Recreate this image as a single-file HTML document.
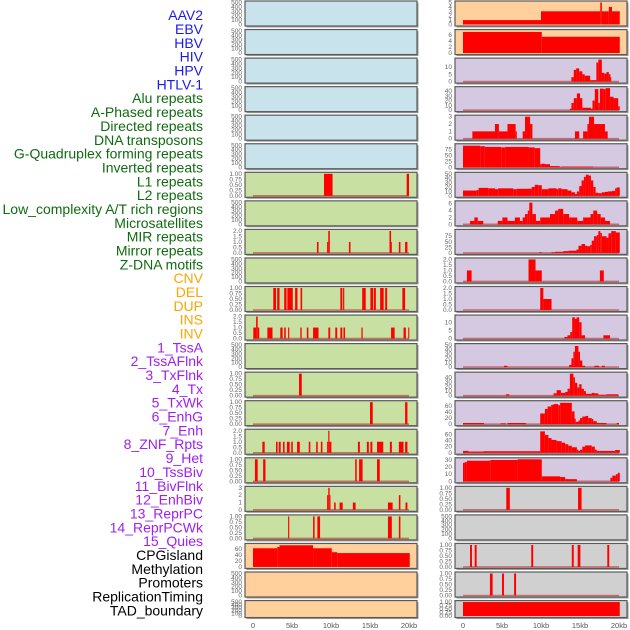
<!DOCTYPE html>
<html><head><meta charset="utf-8"><style>
html,body{margin:0;padding:0;background:#fff;width:630px;height:630px;overflow:hidden}
svg{display:block;font-family:"Liberation Sans",sans-serif}
</style></head><body>
<svg id="chart" width="630" height="630" viewBox="0 0 630 630"></svg>
<script>
// ---- data (segments: [startKb, endKb, value]) ----
const trackLabels=["AAV2","EBV","HBV","HIV","HPV","HTLV-1","Alu repeats","A-Phased repeats","Directed repeats","DNA transposons","G-Quadruplex forming repeats","Inverted repeats","L1 repeats","L2 repeats","Low_complexity A/T rich regions","Microsatellites","MIR repeats","Mirror repeats","Z-DNA motifs","CNV","DEL","DUP","INS","INV","1_TssA","2_TssAFlnk","3_TxFlnk","4_Tx","5_TxWk","6_EnhG","7_Enh","8_ZNF_Rpts","9_Het","10_TssBiv","11_BivFlnk","12_EnhBiv","13_ReprPC","14_ReprPCWk","15_Quies","CPGisland","Methylation","Promoters","ReplicationTiming","TAD_boundary"];
const labelColors=["#1a1aee","#1a1aee","#1a1aee","#1a1aee","#1a1aee","#1a1aee","#106b10","#106b10","#106b10","#106b10","#106b10","#106b10","#106b10","#106b10","#106b10","#106b10","#106b10","#106b10","#106b10","#ffa500","#ffa500","#ffa500","#ffa500","#ffa500","#a020f0","#a020f0","#a020f0","#a020f0","#a020f0","#a020f0","#a020f0","#a020f0","#a020f0","#a020f0","#a020f0","#a020f0","#a020f0","#a020f0","#a020f0","#000","#000","#000","#000","#000"];
const xTickValues=[0,5,10,15,20];
const xTickLabels=["0","5kb","10kb","15kb","20kb"];
const segEmpty=[];
const segAlu=[[9.1,10.2,1],[19.7,20.0,1]];
const segDirected=[[8.2,8.4,1],[9.5,9.65,1],[9.65,9.85,2],[12.3,12.5,1],[17.5,17.7,2],[17.7,17.8,1],[18.7,18.9,1],[19.5,19.8,1]];
const segMicrosat=[[2.6,2.95,1],[3.1,3.4,1],[4.0,4.3,1],[4.4,5.1,1],[5.4,5.7,1],[6.1,6.3,1],[11.2,11.45,1],[11.55,11.7,1],[14.0,14.45,1],[15.05,15.4,1],[15.5,15.75,1],[16.3,16.75,1],[16.95,17.2,1],[19.15,19.5,1]];
const segMirror=[[0.04,0.4,1],[0.4,0.6,2],[0.6,0.8,1],[1.84,2.5,1],[3.5,3.8,1],[4.0,4.2,1],[4.5,4.65,1],[6.07,6.24,1],[6.9,7.1,1],[7.7,8.4,1],[9.66,9.9,1],[10.55,10.8,1],[11.2,11.45,1],[11.6,11.8,1],[13.9,14.06,1],[17.7,18.16,1],[19.3,19.6,1],[19.9,20.04,1]];
const segL14=[[5.9,6.25,1]];
const segL15=[[15.0,15.35,1],[19.5,19.8,1]];
const segL16=[[1.2,1.5,1],[2.95,3.15,1],[3.3,3.55,1],[3.85,4.05,1],[4.35,4.7,1],[4.9,5.1,1],[5.65,6.0,1],[7.15,7.35,1],[8.1,8.3,1],[8.7,8.9,1],[9.5,9.65,1],[9.65,9.8,2],[9.8,10.05,1],[13.45,13.7,1],[14.6,14.85,1],[15.05,15.3,1],[15.9,16.7,1],[17.55,17.8,1],[18.7,19.3,1],[19.5,19.8,1]];
const segL17=[[0.25,0.6,1],[1.3,1.6,1],[13.1,13.3,1],[13.6,14.05,1],[15.9,16.25,1]];
const segL18=[[9.5,9.65,2],[9.65,9.83,3],[9.83,9.9,2],[10.4,10.6,1],[11.1,11.5,1],[12.8,13.15,1],[17.3,17.9,1],[18.7,18.9,2],[19.55,19.8,1]];
const segL19=[[4.5,4.65,1],[7.7,7.9,1],[8.25,8.6,1],[17.3,17.8,1],[18.7,18.9,1]];
const segCNV=[[0,3.1,62],[3.1,3.4,66],[3.4,7.7,72],[7.7,10.1,62],[10.1,10.8,49],[10.8,20.1,46]];
const segINS=[[0,10,1],[10,17.6,3],[17.6,17.8,5],[17.8,18.7,3],[18.7,19.1,4],[19.1,20.1,3]];
const segINV=[[0,10.1,7.0],[10.1,20.1,5.4]];
const segTssA=[[13.9,14.2,3],[14.2,14.5,8],[14.5,14.9,9],[14.9,15.3,7],[15.3,15.6,5],[15.6,16.3,4],[16.3,17.1,1],[17.1,17.35,13],[17.35,17.8,15],[17.8,18.1,6],[18.1,18.4,5.5],[18.4,18.7,6.5],[18.7,18.9,5],[18.9,19.0,3]];
const segTssAFlnk=[[13.7,13.9,3],[13.9,14.2,15],[14.2,14.6,25],[14.6,15.0,35],[15.0,15.3,25],[15.3,16.4,5],[16.4,16.6,3],[16.6,16.9,20],[16.9,17.35,44],[17.35,17.55,15],[17.55,18.0,45],[18.0,18.3,44],[18.3,18.85,46],[18.85,19.3,28],[19.3,19.9,25],[19.9,20.1,8]];
const segTxFlnk=[[1.2,4.1,1],[4.1,4.6,2],[4.6,5.7,1],[5.7,6.75,2],[6.75,6.9,1],[7.65,7.95,1],[7.95,8.6,3],[8.6,8.9,2],[14.35,14.9,1],[15.4,15.95,1],[15.95,16.15,2],[16.15,16.8,3],[16.8,18.2,2],[18.2,18.55,1]];
const segTx=[[0,2.2,90],[2.2,2.8,88],[2.8,4.9,85],[4.9,5.4,83],[5.4,8.4,85],[8.4,9.2,83],[9.2,9.9,80],[9.9,10.1,13],[10.1,10.5,15],[10.5,11.15,13],[11.15,12.4,5],[12.4,12.65,1],[12.65,16.7,3]];
const segTxWk=[[0,1.75,12],[1.75,2.0,13],[2.0,3.25,18],[3.25,4.1,17],[4.1,4.5,15],[4.5,6.45,17],[6.45,6.9,15],[6.9,8.8,16],[8.8,9.2,20],[9.2,9.65,25],[9.65,10.1,24],[10.1,10.95,15],[10.95,12.0,17],[12.0,12.2,15],[12.2,12.65,17],[12.65,13.4,15],[13.4,13.9,12],[13.9,14.35,8],[14.35,14.6,4],[14.6,14.9,10],[14.9,15.2,22],[15.2,15.5,35],[15.5,15.75,43],[15.75,16.1,48],[16.1,16.4,46],[16.4,16.7,35],[16.7,17.0,20],[17.0,17.35,7],[17.35,17.8,6],[17.8,18.2,8],[18.2,18.6,9],[18.6,19.1,10],[19.1,19.5,11],[19.5,19.7,17],[19.7,20.1,19]];
const segEnhG=[[0.9,1.45,1],[1.45,1.9,2],[1.9,2.6,1],[4.45,5.05,1],[5.05,5.7,2],[5.7,6.65,1],[6.65,7.3,2],[7.3,7.65,1],[7.65,7.95,2],[7.95,8.3,3],[8.3,8.5,4],[8.5,8.9,6.3],[8.9,9.35,3],[9.35,9.9,1],[9.9,11.15,2],[11.15,11.8,3],[11.8,12.2,4],[12.2,12.85,4.5],[12.85,13.6,3],[13.6,14.65,2],[14.65,15.4,1],[15.4,16.35,2],[16.35,16.7,3],[16.7,17.2,4],[17.2,17.65,3],[17.65,18.2,2],[18.2,18.85,1]];
const segEnh=[[9.75,10.1,3],[11.35,11.8,3],[11.8,12.85,5],[12.85,13.5,8],[13.5,14.55,10],[14.55,14.8,15],[14.8,15.2,32],[15.2,15.65,40],[15.65,15.95,32],[15.95,16.3,30],[16.3,16.5,36],[16.5,16.8,55],[16.8,17.15,75],[17.15,17.35,80],[17.35,17.6,98],[17.6,17.8,90],[17.8,18.4,75],[18.4,18.65,68],[18.65,19.0,88],[19.0,19.6,98],[19.6,20.1,92]];
const segZNF=[[0.5,1.1,1],[8.4,9.3,2],[9.3,10.1,1],[17.55,18.05,1]];
const segHet=[[9.9,10.3,2],[10.3,11.35,1]];
const segTssBiv=[[13.0,13.4,1],[13.4,13.75,2],[13.75,14.0,4],[14.0,14.35,13],[14.35,14.55,12],[14.55,14.9,13],[14.9,15.2,10],[15.2,15.65,2],[18.0,18.85,2]];
const segBivFlnk=[[5.25,5.7,3],[13.6,13.9,5],[13.9,14.15,20],[14.15,14.35,35],[14.35,14.8,48],[14.8,15.0,35],[15.0,15.3,15],[15.3,15.65,3],[16.85,17.45,3],[17.8,18.2,3]];
const segEnhBiv=[[5.5,5.95,3],[11.6,12.0,5],[12.0,12.55,12],[12.55,13.1,6],[13.1,13.4,8],[13.4,13.7,15],[13.7,14.15,48],[14.15,14.35,40],[14.35,14.65,28],[14.65,14.9,18],[14.9,15.2,25],[15.2,15.5,15],[15.5,15.75,10],[15.75,16.5,4],[16.5,16.9,6],[16.9,17.35,5],[17.35,18.35,2],[18.35,19.9,3]];
const segReprPC=[[0,2.7,4],[4.8,5.5,3],[5.7,8.1,4],[9.9,10.5,35],[10.5,10.85,50],[10.85,11.3,58],[11.3,11.6,63],[11.6,12.2,66],[12.2,12.45,62],[12.45,13.95,70],[13.95,14.3,42],[14.3,14.45,18],[14.45,14.8,8],[14.8,15.0,12],[15.0,15.3,20],[15.3,15.7,25],[15.7,16.05,27],[16.05,16.5,20],[16.5,16.7,17],[16.7,17.15,10],[17.15,18.4,4],[19.7,20.0,4]];
const segReprPCWk=[[0,0.7,6],[0.7,2.6,4],[2.6,9.9,5],[9.9,10.5,70],[10.5,10.95,58],[10.95,11.35,48],[11.35,12.0,42],[12.0,12.65,38],[12.65,13.1,33],[13.1,13.5,28],[13.5,13.95,23],[13.95,14.6,18],[14.6,14.8,10],[14.8,15.0,6],[15.0,15.3,10],[15.3,15.65,20],[15.65,16.5,24],[16.5,16.9,20],[16.9,17.15,10],[17.15,19.5,6],[19.5,20.1,9]];
const segQuies=[[0,0.2,26],[0.2,0.5,27],[0.5,3.5,29],[3.5,7.0,30],[7.0,10.1,31],[10.1,12.45,7],[12.45,13.1,6],[13.1,14.6,3],[18.9,19.15,5],[19.15,19.6,8],[19.6,19.85,10],[19.85,20.1,12]];
const segCPG=[[5.55,6.0,1],[14.75,15.2,1]];
const segPromoters=[[0.9,1.15,1],[1.5,1.75,1],[8.75,9.0,1],[13.95,14.2,1],[14.7,15.05,1],[18.5,18.75,1]];
const segRepl=[[3.45,3.8,1],[5.0,5.25,1],[6.55,6.8,1]];
const segTAD=[[0,20.1,1]];

// ---- layout ----
const T500=[0,100,200,300,400,500], T1=[0,0.25,0.5,0.75,1], T2=[0,0.5,1,1.5,2];
const panels=[
 ["aav2-ebv",0,0,segEmpty,500,T500,"#c8e3eb",false],
 ["hbv-hiv",0,1,segEmpty,500,T500,"#c8e3eb",false],
 ["hpv-htlv",0,2,segEmpty,500,T500,"#c8e3eb",false],
 ["blue-4",0,3,segEmpty,500,T500,"#c8e3eb",false],
 ["blue-5",0,4,segEmpty,500,T500,"#c8e3eb",false],
 ["blue-6",0,5,segEmpty,500,T500,"#c8e3eb",false],
 ["alu",0,6,segAlu,1,T1,"#c8e0a2",true],
 ["aphased",0,7,segEmpty,500,T500,"#c8e0a2",false],
 ["directed",0,8,segDirected,2,T2,"#c8e0a2",true],
 ["dna-transposons",0,9,segEmpty,500,T500,"#c8e0a2",false],
 ["g-quadruplex",0,10,segMicrosat,1,T1,"#c8e0a2",true],
 ["inverted",0,11,segMirror,2,T2,"#c8e0a2",true],
 ["l1",0,12,segEmpty,500,T500,"#c8e0a2",false],
 ["l2",0,13,segL14,1,T1,"#c8e0a2",true],
 ["low-complexity",0,14,segL15,1,T1,"#c8e0a2",true],
 ["microsat",0,15,segL16,2,T2,"#c8e0a2",true],
 ["mir",0,16,segL17,1,T1,"#c8e0a2",true],
 ["mirror",0,17,segL18,3,[0,1,2,3],"#c8e0a2",true],
 ["zdna",0,18,segL19,1,T1,"#c8e0a2",true],
 ["cnv",0,19,segCNV,73,[0,20,40,60],"#ffd09c",false],
 ["del",0,20,segEmpty,500,T500,"#ffd09c",false],
 ["dup",0,21,segEmpty,500,T500,"#ffd09c",false],
 ["ins",1,0,segINS,5,[0,1,2,3,4,5],"#ffd09c",false],
 ["inv",1,1,segINV,7.3,[0,2,4,6],"#ffd09c",false],
 ["tssa",1,2,segTssA,15,[0,5,10],"#d5c8e1",true],
 ["tssaflnk",1,3,segTssAFlnk,46,[0,10,20,30,40],"#d5c8e1",true],
 ["txflnk",1,4,segTxFlnk,3,[0,1,2,3],"#d5c8e1",true],
 ["tx",1,5,segTx,92,[0,25,50,75],"#d5c8e1",true],
 ["txwk",1,6,segTxWk,50,[0,10,20,30,40,50],"#d5c8e1",true],
 ["enhg",1,7,segEnhG,6.4,[0,2,4,6],"#d5c8e1",true],
 ["enh",1,8,segEnh,99,[0,25,50,75],"#d5c8e1",true],
 ["znf",1,9,segZNF,2,T2,"#d5c8e1",true],
 ["het",1,10,segHet,2,T2,"#d5c8e1",true],
 ["tssbiv",1,11,segTssBiv,13.5,[0,5,10],"#d5c8e1",true],
 ["bivflnk",1,12,segBivFlnk,50,[0,10,20,30,40,50],"#d5c8e1",true],
 ["enhbiv",1,13,segEnhBiv,48,[0,10,20,30,40],"#d5c8e1",true],
 ["reprpc",1,14,segReprPC,72,[0,20,40,60],"#d5c8e1",true],
 ["reprpcwk",1,15,segReprPCWk,72,[0,20,40,60],"#d5c8e1",true],
 ["quies",1,16,segQuies,31,[0,10,20,30],"#d5c8e1",true],
 ["cpgisland",1,17,segCPG,1,T1,"#d0d0d0",true],
 ["methylation",1,18,segEmpty,500,T500,"#d0d0d0",false],
 ["promoters",1,19,segPromoters,1,T1,"#d0d0d0",true],
 ["replication",1,20,segRepl,1,T1,"#d0d0d0",true],
 ["tad",1,21,segTAD,1,T1,"#d0d0d0",false]
];
const NS="http://www.w3.org/2000/svg";
const svg=document.getElementById('chart');
function mk(tag,attrs,parent){const e=document.createElementNS(NS,tag);for(const k in attrs)e.setAttribute(k,attrs[k]);(parent||svg).appendChild(e);return e;}
const colLeft=[245,455], colRight=[417,627], x0=[253,463], kbPx=7.8;
function xScale(col,kb){return x0[col]+kb*kbPx;}
function fmt(v,tks){const mx=tks[tks.length-1];if(mx===1)return v.toFixed(2);if(mx===2)return v.toFixed(1);return String(v);}

trackLabels.forEach((t,i)=>{
  const el=mk('text',{x:203,y:16.5+i*13.84,'text-anchor':'end','dominant-baseline':'middle','font-size':'14',fill:labelColors[i]});
  
  
  el.textContent=t;
});

panels.forEach(p=>{
  const [name,col,row,segs,ymax,ticks,bg,baseline]=p;
  const top=1+row*28.55, h=row===21?17:25, bot=top+h;
  const g=mk('g',{});
  
  
  mk('rect',{x:colLeft[col]+1.5,y:top+1.5,width:colRight[col]-colLeft[col],height:h,fill:'#9a9a9a'},g);
  mk('rect',{x:colLeft[col],y:top,width:colRight[col]-colLeft[col],height:h,fill:bg,stroke:'#5a5a5a','stroke-width':1.2},g);
  const yS=v=>bot-1.5-v/ymax*(h-3);
  if(baseline){
    const bl=mk('line',{x1:xScale(col,0),x2:xScale(col,20),y1:bot-1.5,y2:bot-1.5,stroke:'rgba(190,30,30,0.55)','stroke-width':1.6},g);
    
    
  }
  segs.forEach(s=>{
    const xa=xScale(col,s[0]),xb=xScale(col,s[1]),y=yS(s[2]);
    const r=mk('rect',{x:xa,y:y,width:Math.max(0.8,xb-xa),height:(bot-1.5)-y,fill:'#ff0000'},g);
    
    
  });
  ticks.forEach(v=>{
    const t=mk('text',{x:colLeft[col]-3,y:yS(v)+2,'text-anchor':'end','font-size':'6.5',fill:'#666'},g);
    
    
    t.textContent=fmt(v,ticks);
  });
});

[0,1].forEach(col=>{
  xTickValues.forEach((v,i)=>{
    const t=mk('text',{x:xScale(col,v),y:628,'text-anchor':'middle','font-size':'7.5',fill:'#555'});
    
    
    t.textContent=xTickLabels[i];
  });
});
</script>
</body></html>
